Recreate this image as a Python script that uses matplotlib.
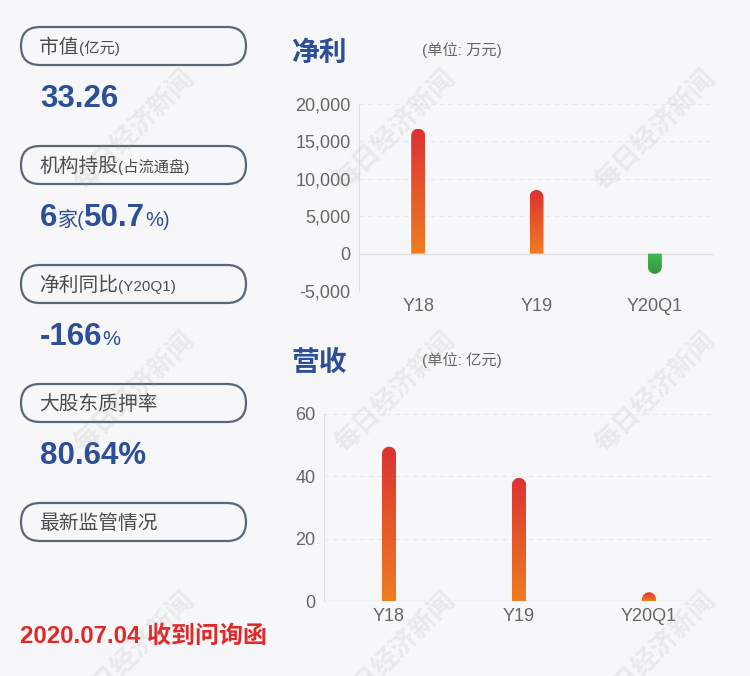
import numpy as np
import matplotlib
matplotlib.use('Agg')
import matplotlib.pyplot as plt
from matplotlib.patches import FancyBboxPatch, PathPatch
from matplotlib.path import Path
from matplotlib.colors import LinearSegmentedColormap

plt.rcParams['font.family'] = ['Liberation Sans', 'Noto Sans CJK SC']

# Данные
categories = ['Y18', 'Y19', 'Y20Q1']
net_profit = [16700, 8500, -2700]      # 万元
revenue = [49.5, 39.5, 2.8]            # 亿元
profit_ticks = [-5000, 0, 5000, 10000, 15000, 20000]
revenue_ticks = [0, 20, 40, 60]

info_labels = ['市值', '机构持股', '净利同比', '大股东质押率', '最新监管情况']
info_notes = ['(亿元)', '(占流通盘)', '(Y20Q1)', '', '']
market_cap = '33.26'
inst_count = '6'
inst_ratio = '50.7'
profit_yoy = '-166'
pledge_ratio = '80.64%'
notice = '2020.07.04 收到问询函'

BLUE = '#2d4e98'
BG = '#f7f7f9'
GRAY = '#666666'

W, H = 750, 676
fig = plt.figure(figsize=(W / 100, H / 100), dpi=100, facecolor=BG)

# фон в пикселях
ax0 = fig.add_axes([0, 0, 1, 1])
ax0.set_xlim(0, W)
ax0.set_ylim(H, 0)
ax0.axis('off')
renderer = fig.canvas.get_renderer()


def chain(x, y, pieces):
    # pieces: (text, size, weight, color)
    for txt, size, weight, color in pieces:
        t = ax0.text(x, y, txt, fontsize=size, fontweight=weight, color=color, va='baseline', ha='left')
        x += t.get_window_extent(renderer).width
    return x


# левая панель
box_top = 27
step = 119
for i, (lab, note) in enumerate(zip(info_labels, info_notes)):
    y0 = box_top + i * step
    pill = FancyBboxPatch((21, y0), 225, 38, boxstyle='round,pad=0,rounding_size=19',
                          fc='none', ec='#5b6677', lw=1.6)
    ax0.add_patch(pill)
    pieces = [(lab, 14.2, 'normal', '#4d4d4d')]
    if note:
        pieces.append((note, 11, 'normal', '#4d4d4d'))
    chain(39, y0 + 26, pieces)

BIG = 22.5
chain(40, 107, [(market_cap, BIG, 'bold', BLUE)])
chain(40, 226, [(inst_count, BIG, 'bold', BLUE), ('家(', 14.5, 'normal', BLUE),
                (inst_ratio, BIG, 'bold', BLUE), ('%)', 14.5, 'normal', BLUE)])
chain(40, 345, [(profit_yoy, BIG, 'bold', BLUE), ('%', 14.5, 'normal', BLUE)])
chain(40, 464, [(pledge_ratio, BIG, 'bold', BLUE)])
chain(20, 643, [(notice, 17.3, 'bold', '#e02a2a')])

# заголовки графиков
ax0.text(291, 61, '净利', fontsize=20, fontweight='bold', color=BLUE, va='baseline')
ax0.text(422, 55, '(单位: 万元)', fontsize=11, color=GRAY, va='baseline')
ax0.text(291, 371, '营收', fontsize=20, fontweight='bold', color=BLUE, va='baseline')
ax0.text(422, 365, '(单位: 亿元)', fontsize=11, color=GRAY, va='baseline')

warm = LinearSegmentedColormap.from_list('warm', ['#ef7d21', '#dc3232'])
green = LinearSegmentedColormap.from_list('green', ['#3a9340', '#3dbb4d'])


def gradient_bar(ax, x, value, width_px):
    p0 = ax.transData.transform((0, 0))
    p1 = ax.transData.transform((1, 1))
    hw = width_px / 2 / (p1[0] - p0[0])
    ry = width_px / 2 / (p1[1] - p0[1])
    s = np.sign(value)
    yc = value - s * ry
    t = np.linspace(np.pi, 0, 40)
    verts = [(x - hw, 0), (x - hw, yc)]
    verts += list(zip(x + hw * np.cos(t), yc + s * ry * np.sin(t)))
    verts += [(x + hw, 0), (x - hw, 0)]
    patch = PathPatch(Path(verts), fc='none', ec='none', transform=ax.transData)
    ax.add_patch(patch)
    cmap = warm if value >= 0 else green
    im = ax.imshow(np.linspace(0, 1, 100).reshape(-1, 1), cmap=cmap, origin='lower',
                   extent=(x - hw, x + hw, min(0, value), max(0, value)),
                   aspect='auto', zorder=3, interpolation='bilinear')
    im.set_clip_path(patch)


def setup(ax, ticks, labels, ylim):
    ax.set_facecolor('none')
    ax.set_xlim(-0.5, len(categories) - 0.5)
    ax.set_ylim(*ylim)
    ax.autoscale(False)
    for sp in ['top', 'right', 'bottom']:
        ax.spines[sp].set_visible(False)
    ax.spines['left'].set_color('#e0e0e0')
    ax.set_yticks(ticks)
    ax.set_yticklabels(labels)
    ax.set_xticks(range(len(categories)))
    ax.set_xticklabels(categories)
    ax.tick_params(length=0, labelsize=13, labelcolor=GRAY)
    ax.tick_params(axis='y', pad=6)
    ax.tick_params(axis='x', pad=5)
    for tk in ticks:
        if tk == 0:
            ax.axhline(0, color='#e0e0e0', lw=1, zorder=1)
        else:
            ax.axhline(tk, color='#e8e8e8', lw=0.8, ls=(0, (4, 4)), zorder=1)


ax1 = fig.add_axes([359 / W, 1 - 291 / H, 355 / W, 187 / H])
setup(ax1, profit_ticks, [f'{v:,}' for v in profit_ticks], (-5000, 20000))
for i, v in enumerate(net_profit):
    gradient_bar(ax1, i, v, 14)

ax2 = fig.add_axes([324 / W, 1 - 601 / H, 390 / W, 187 / H])
setup(ax2, revenue_ticks, [str(v) for v in revenue_ticks], (0, 60))
for i, v in enumerate(revenue):
    gradient_bar(ax2, i, v, 14)

# водяные знаки
for wx in [134, 395, 655]:
    for wy in [130, 392, 652]:
        fig.text(wx / W, 1 - wy / H, '每日经济新闻', rotation=45, rotation_mode='anchor',
                 ha='center', va='center', fontsize=19, fontweight='bold',
                 color='#999999', alpha=0.15, zorder=10, family='Noto Sans CJK SC')

fig.savefig('out.png', dpi=100, facecolor=BG)
